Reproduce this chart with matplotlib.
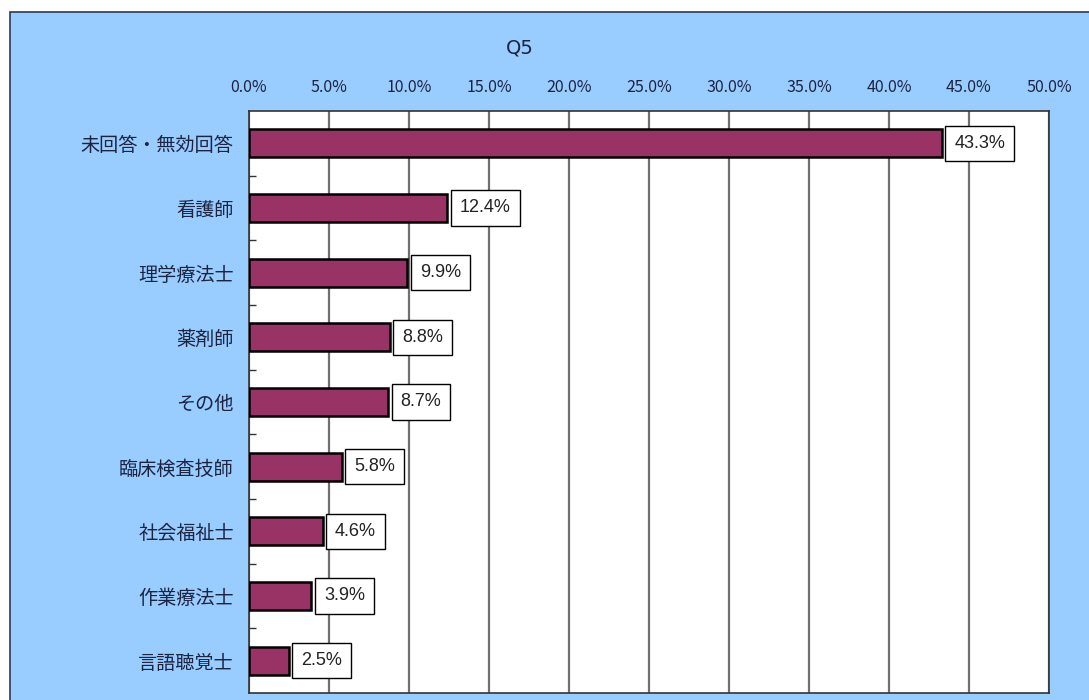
import matplotlib
matplotlib.use("Agg")
import matplotlib.pyplot as plt
from matplotlib.patches import Rectangle
from matplotlib.ticker import FixedLocator

plt.rcParams['font.family'] = ['Noto Sans CJK JP', 'DejaVu Sans']

# 回答者の職種 (Q5)
categories = ["未回答・無効回答", "看護師", "理学療法士", "薬剤師", "その他",
              "臨床検査技師", "社会福祉士", "作業療法士", "言語聴覚士"]
values = [43.3, 12.4, 9.9, 8.8, 8.7, 5.8, 4.6, 3.9, 2.5]
xticks = [0, 5, 10, 15, 20, 25, 30, 35, 40, 45, 50]

bg_blue = "#99ccff"
bar_color = "#993366"
text_color = "#1c2440"

fig = plt.figure(figsize=(10.89, 7.0), dpi=100, facecolor="white")

# chart area background with a thin dark border
fig.patches.append(Rectangle((10 / 1089, -0.01), 1.0, (700 - 12) / 700 + 0.01,
                             transform=fig.transFigure, facecolor=bg_blue,
                             edgecolor="#2b3a55", linewidth=1.2, zorder=-10))

ax = fig.add_axes([249 / 1089, 7 / 700, (1049 - 249) / 1089, (693 - 111) / 700])
ax.set_facecolor("white")

y = list(range(len(categories)))
ax.barh(y, values, height=0.43, color=bar_color, edgecolor="black",
        linewidth=1.8, zorder=3)

for yi, v in zip(y, values):
    ax.annotate(f"{v:.1f}%", xy=(v, yi), xytext=(9, 0), textcoords="offset points",
                ha="left", va="center", fontsize=13, color="#222222",
                family=["Liberation Sans", "DejaVu Sans"], zorder=4,
                bbox=dict(boxstyle="square,pad=0.5", facecolor="white",
                          edgecolor="black", linewidth=1.0))

ax.set_xlim(0, 50)
ax.set_ylim(len(categories) - 0.5, -0.5)
ax.set_xticks(xticks)
ax.set_xticklabels([f"{t:.1f}%" for t in xticks])
ax.xaxis.tick_top()
ax.tick_params(axis="x", which="major", length=0, pad=11, labelsize=11.5,
               labelcolor=text_color)
ax.grid(axis="x", color="#707070", linewidth=1.6, zorder=1)

ax.set_yticks(y)
ax.set_yticklabels(categories)
ax.yaxis.set_minor_locator(FixedLocator([i + 0.5 for i in y[:-1]]))
ax.tick_params(axis="y", which="major", length=0, pad=11, labelsize=13.8,
               labelcolor=text_color)
ax.tick_params(axis="y", which="minor", direction="in", length=5, width=1,
               color="#333333")

for side in ax.spines.values():
    side.set_color("#333333")
    side.set_linewidth(1.2)

fig.text(520 / 1089, 1 - 48 / 700, "Q5", ha="center", va="center",
         fontsize=14, color=text_color, family=["DejaVu Sans"])

fig.savefig("out.png", dpi=100, facecolor="white")
